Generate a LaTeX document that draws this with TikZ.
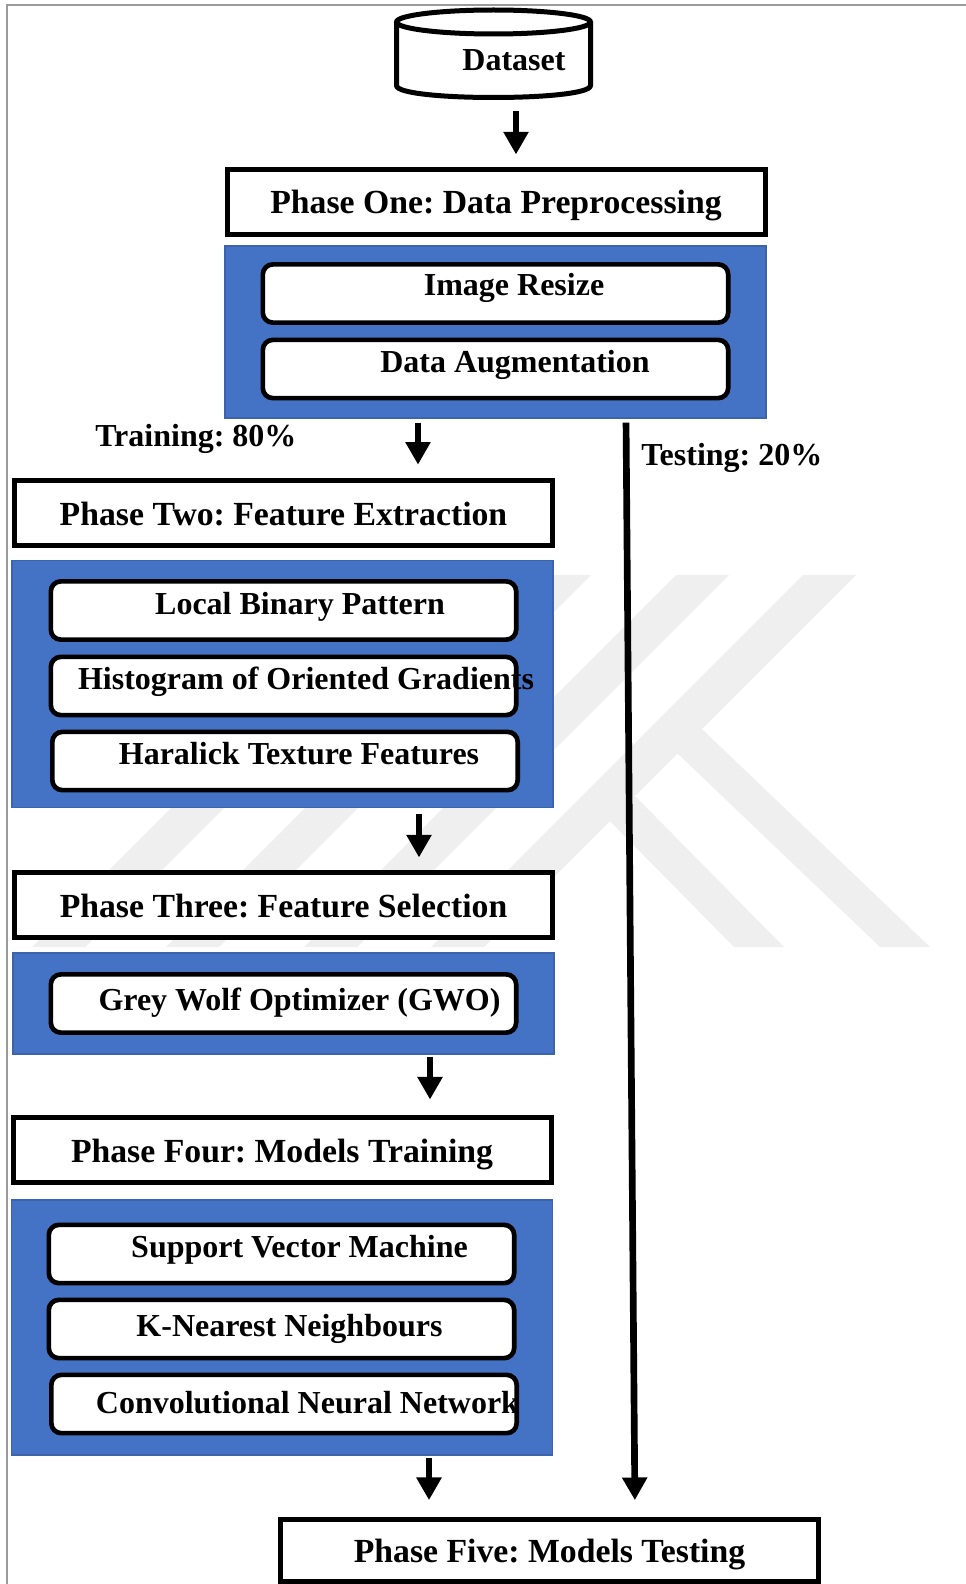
\documentclass[tikz,border=0pt]{standalone}
\usepackage{fontspec}
\setmainfont{Liberation Serif}
\usetikzlibrary{arrows.meta}
\definecolor{PBlue}{HTML}{4472C4}
\definecolor{PBlueEdge}{HTML}{3B64AD}
\definecolor{PMark}{HTML}{EFEFEF}
\definecolor{PFrame}{HTML}{9A9A9A}
\frenchspacing

\begin{document}
\begin{tikzpicture}[x=0.75pt,y=-0.75pt,
  every node/.style={font=\bfseries},
  phase/.style={rectangle,draw=black,fill=white,line width=3.75pt,
    minimum width=403.5pt,minimum height=48.75pt,inner sep=0pt,
    text height=21pt,text depth=3pt,
    font=\fontsize{25.3}{30}\selectfont\bfseries},
  panel/.style={rectangle,fill=PBlue,draw=PBlueEdge,line width=0.8pt,
    minimum width=405.75pt,inner sep=0pt},
  item/.style={rectangle,rounded corners=7.5pt,draw=black,fill=white,
    line width=3.5pt,minimum width=349pt,minimum height=43.7pt,inner sep=0pt},
  itemtxt/.style={font=\fontsize{24}{28}\selectfont\bfseries,inner sep=0pt,
    text height=15pt,text depth=2.3pt},
  flow/.style={line width=5pt,-{Triangle[length=17pt,width=18pt]},
    shorten <=3pt,shorten >=10pt},
  wmark/.style={fill=PMark,draw=none}]
  \useasboundingbox (0,0) rectangle (966,1584);

  % faint watermark behind everything
  \foreach \xb in {32,166,304,431}
    \fill[wmark] (\xb,947) -- ++(53,0) -- ++(372,-372) -- ++(-53,0) -- cycle;
  \fill[wmark] (653,730) -- (703,730) -- (930,947) -- (880,947) -- cycle;
  \fill[wmark] (586,797) -- (636,797) -- (784,947) -- (734,947) -- cycle;

  % page frame
  \draw[PFrame,line width=1.5pt] (7,1584) -- (7,5) -- (966,5);

  % source drum
  \filldraw[draw=black,fill=white,line width=3.75pt]
    (396.5,22) -- (396.5,85.5) .. controls (396.5,101.5) and (590.5,101.5) .. (590.5,85.5)
    -- (590.5,22);
  \draw[line width=3.75pt] (493.5,22) ellipse [x radius=97, y radius=12];
  \coordinate (dsbottom) at (516,97.5);
  \node[itemtxt] (dataset) at (514,62.5) {Dataset};

  % phase one
  \node[phase] (phaseone) at (496,202) {Phase One: Data Preprocessing};
  \node[panel,minimum height=129pt] (blueone) at (495.5,332) {};
  \node[item,label={[itemtxt,xshift=13.9pt,yshift=5.2pt]center:Image Resize}]
        (resize) at (495.5,293.5) {};
  \node[item,label={[itemtxt,xshift=14.6pt,yshift=3.4pt]center:Data Augmentation}]
        (augment) at (495.5,369) {};

  \node[itemtxt,anchor=west] (trainlbl) at (95,438) {Training: 80\%};
  \node[itemtxt,anchor=west] (testlbl) at (641,457) {Testing: 20\%};

  % phase two
  \node[phase] (phasetwo) at (283.5,513) {Phase Two: Feature Extraction};
  \node[panel,minimum height=185.25pt] (bluetwo) at (282.5,684) {};
  \node[item,label={[itemtxt,xshift=12.4pt,yshift=3pt]center:Local Binary Pattern}]
        (lbp) at (283.5,610.5) {};
  \node[item,label={[itemtxt,xshift=16.9pt,yshift=4.1pt]center:Histogram of Oriented Gradients}]
        (hog) at (283.5,686) {};
  \node[item,label={[itemtxt,xshift=10.5pt,yshift=4.1pt]center:Haralick Texture Features}]
        (haralick) at (285,761) {};

  % phase three
  \node[phase] (phasethree) at (283.5,905) {Phase Three: Feature Selection};
  \node[panel,minimum height=75.75pt] (bluethree) at (283.5,1003.5) {};
  \node[item,label={[itemtxt,xshift=12pt,yshift=0.8pt]center:Grey Wolf Optimizer (GWO)}]
        (gwo) at (283.5,1003.5) {};

  % phase four
  \node[phase] (phasefour) at (282,1150) {Phase Four: Models Training};
  \node[panel,minimum height=191.25pt] (bluefour) at (282,1327.5) {};
  \node[item,label={[itemtxt,xshift=13.5pt,yshift=3.4pt]center:Support Vector Machine}]
        (svm) at (281.5,1254) {};
  \node[item,label={[itemtxt,xshift=6pt,yshift=1.1pt]center:K-Nearest Neighbours}]
        (knn) at (281.5,1329) {};
  \node[item,label={[itemtxt,xshift=17.6pt,yshift=-0.4pt]center:Convolutional Neural Network}]
        (cnn) at (284,1404) {};

  % phase five
  \node[phase,minimum height=47pt] (phasefive) at (549.5,1550.5) {Phase Five: Models Testing};

  % arrow columns
  \coordinate (acol1) at (516,0);
  \coordinate (acol2) at (418,0);
  \coordinate (acol3) at (419,0);
  \coordinate (acol4) at (430,0);
  \coordinate (acol5) at (429,0);
  \coordinate (tsplit) at (626,0);
  \coordinate (tjoin) at (635,0);

  \draw[flow,shorten <=10.5pt,shorten >=9.4pt] (dsbottom) -- (phaseone.north -| acol1);
  \draw[flow] (blueone.south -| acol2) -- (phasetwo.north -| acol2);
  \draw[flow,shorten <=4.5pt,shorten >=9.4pt] (bluetwo.south -| acol3) -- (phasethree.north -| acol3);
  \draw[flow,shorten <=1.5pt,shorten >=11.6pt] (bluethree.south -| acol4) -- (phasefour.north -| acol4);
  \draw[flow,shorten <=2.2pt,shorten >=12.4pt] (bluefour.south -| acol5) -- (phasefive.north -| acol5);
  \draw[flow,shorten >=12.4pt] (blueone.south -| tsplit) -- (phasefive.north -| tjoin);
\end{tikzpicture}
\end{document}
